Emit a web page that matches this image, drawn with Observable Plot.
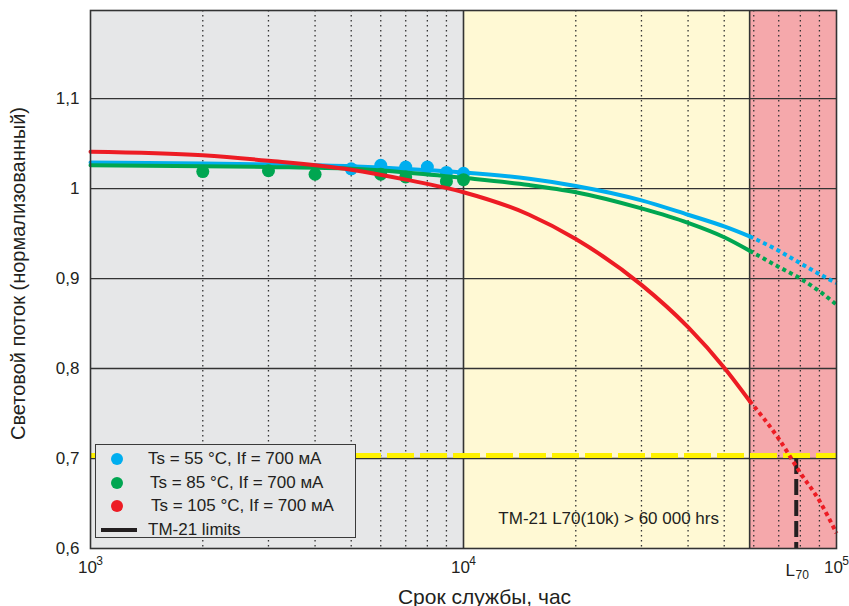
<!DOCTYPE html>
<html>
<head>
<meta charset="utf-8">
<script src="https://cdn.jsdelivr.net/npm/d3@7"></script>
<script src="https://cdn.jsdelivr.net/npm/@observablehq/plot@0.6"></script>
<style>
  html, body { margin: 0; padding: 0; background: #fff; }
  #wrap { position: relative; width: 849px; height: 606px; font-family: "Liberation Sans", Arial, sans-serif; }
  #legend { position: absolute; left: 95px; top: 444px; width: 261px; height: 94px; box-sizing: border-box;
            background: #e6e7e8; border: 1.5px solid #3a3a3a; }
  .row { position: absolute; left: 0; height: 24px; line-height: 24px; font-size: 17px; color: #231f20; white-space: nowrap; }
  .dot { position: absolute; width: 12px; height: 12px; border-radius: 50%; top: 6px; left: 15px; }
  .bar { position: absolute; height: 4px; top: 10px; left: 5px; width: 36px; background: #231f20; }
  .lbl { position: absolute; top: 0; }
</style>
</head>
<body>
<div id="wrap"><div id="legend"></div></div>
<script>
// ---- data ----
const seriesNames = ["Ts = 55 °C, If = 700 мА", "Ts = 85 °C, If = 700 мА", "Ts = 105 °C, If = 700 мА"];
const seriesColors = ["#00aeef", "#00a651", "#ed1c24"];
const limitLabel = "TM-21 limits";

// fitted curves (measured-to-reported range)
const curveX   = [1000, 2000, 3000, 5000, 7000, 10000, 15000, 20000, 30000, 40000, 50000, 58500];
const blueFit  = [1.029, 1.028, 1.027, 1.025, 1.022, 1.018, 1.011, 1.003, 0.987, 0.971, 0.958, 0.947];
const greenFit = [1.026, 1.025, 1.024, 1.022, 1.018, 1.012, 1.004, 0.996, 0.978, 0.962, 0.946, 0.931];
const redFit   = [1.041, 1.037, 1.031, 1.021, 1.010, 0.996, 0.971, 0.944, 0.893, 0.846, 0.801, 0.764];

// extrapolation beyond TM-21 limit
const extrapX   = [58500, 70000, 80000, 90000, 100000];
const blueExt   = [0.947, 0.931, 0.917, 0.905, 0.895];
const greenExt  = [0.931, 0.913, 0.900, 0.886, 0.871];
const redExt    = [0.764, 0.722, 0.684, 0.653, 0.617];

// measured points
const blueDotX  = [5000, 6000, 7000, 8000, 9000, 10000];
const blueDotY  = [1.022, 1.026, 1.024, 1.024, 1.018, 1.017];
const greenDotX = [2000, 3000, 4000, 6000, 7000, 9000, 10000];
const greenDotY = [1.019, 1.020, 1.016, 1.016, 1.013, 1.008, 1.010];

// regions
const regionFrom   = [1000, 10000, 58500];
const regionTo     = [10000, 58500, 100000];
const regionColors = ["#e6e7e8", "#fff9d4", "#f5a8ab"];

// axes
const yTicks = [0.6, 0.7, 0.8, 0.9, 1.0, 1.1];
const yTickLabels = ["0,6", "0,7", "0,8", "0,9", "1", "1,1"];
const xTicks = [1000, 10000, 100000];
const xExponents = ["3", "4", "5"];
const minorX = [2000, 3000, 4000, 5000, 6000, 7000, 8000, 9000, 20000, 30000, 40000, 50000, 60000, 70000, 80000, 90000];
const majorY = [0.7, 0.8, 0.9, 1.0, 1.1];
const solidX = [10000, 58500];
const l70Level = 0.7;
const l70Hours = 78000;
const annotationText = "TM-21 L70(10k) > 60 000 hrs";
const annotationX = 24500;
const annotationY = 0.633;
const xTitle = "Срок службы, час";
const yTitle = "Световой поток (нормализованный)";

// ---- build tables ----
const regions = regionFrom.map((f, i) => ({from: f, to: regionTo[i], color: regionColors[i]}));
const fits = [blueFit, greenFit, redFit].map(arr => curveX.map((x, i) => ({x, y: arr[i]})));
const exts = [blueExt, greenExt, redExt].map(arr => extrapX.map((x, i) => ({x, y: arr[i]})));
const blueDots = blueDotX.map((x, i) => ({x, y: blueDotY[i]}));
const greenDots = greenDotX.map((x, i) => ({x, y: greenDotY[i]}));

const ink = "#333333";
const dotted = {strokeWidth: 4, strokeDasharray: "4,3.5", strokeLinecap: "butt", curve: "monotone-x"};

const chart = Plot.plot({
  width: 849,
  height: 606,
  marginLeft: 90,
  marginRight: 13,
  marginTop: 10,
  marginBottom: 58,
  x: {type: "log", domain: [1000, 100000]},
  y: {domain: [0.6, 1.198]},
  style: {fontFamily: "'Liberation Sans', Arial, sans-serif", fontSize: "17px", background: "#fff", color: "#231f20"},
  marks: [
    ...regions.map(r => Plot.rect([r], {x1: "from", x2: "to", fill: r.color})),
    Plot.ruleX(minorX, {stroke: ink, strokeWidth: 1.3, strokeDasharray: "1.5,3.5"}),
    Plot.ruleY(majorY, {stroke: ink, strokeWidth: 1.4}),
    Plot.ruleX(solidX, {stroke: ink, strokeWidth: 1.6}),
    Plot.ruleY([l70Level], {stroke: "#fff200", strokeWidth: 5, strokeDasharray: "27,6", dy: -3}),
    Plot.ruleX([l70Hours], {y1: l70Level, y2: 0.6, stroke: "#231f20", strokeWidth: 4, strokeDasharray: "16,5"}),
    // blue
    Plot.line(fits[0], {x: "x", y: "y", stroke: seriesColors[0], strokeWidth: 4, curve: "monotone-x"}),
    Plot.line(exts[0], {x: "x", y: "y", stroke: seriesColors[0], ...dotted}),
    Plot.dot(blueDots, {x: "x", y: "y", r: 6.5, fill: seriesColors[0]}),
    // green
    Plot.line(fits[1], {x: "x", y: "y", stroke: seriesColors[1], strokeWidth: 4, curve: "monotone-x"}),
    Plot.line(exts[1], {x: "x", y: "y", stroke: seriesColors[1], ...dotted}),
    Plot.dot(greenDots, {x: "x", y: "y", r: 6.5, fill: seriesColors[1]}),
    // red
    Plot.line(fits[2], {x: "x", y: "y", stroke: seriesColors[2], strokeWidth: 4, curve: "monotone-x"}),
    Plot.line(exts[2], {x: "x", y: "y", stroke: seriesColors[2], ...dotted}),
    Plot.frame({stroke: ink, strokeWidth: 1.6}),
    // axes
    Plot.axisY({ticks: yTicks, tickFormat: d => yTickLabels[yTicks.indexOf(d)], tickSize: 0, tickPadding: 11, label: null, fontSize: 17}),
    Plot.axisX({ticks: xTicks, tickFormat: () => "10", tickSize: 0, tickPadding: 12, label: null, fontSize: 17, dx: -3}),
    Plot.text(xTicks, {x: d => d, frameAnchor: "bottom", text: (d, i) => xExponents[i], fontSize: 12, dx: 9, dy: 16}),
    Plot.text(["L"], {x: l70Hours, frameAnchor: "bottom", text: d => d, fontSize: 17, dx: -6, dy: 27}),
    Plot.text(["70"], {x: l70Hours, frameAnchor: "bottom", text: d => d, fontSize: 12, dx: 6, dy: 30}),
    Plot.text([annotationText], {x: annotationX, y: annotationY, text: d => d, fontSize: 17}),
    Plot.text([xTitle], {frameAnchor: "bottom", textAnchor: "middle", text: d => d, fontSize: 21, dx: 21, dy: 55}),
    Plot.text([yTitle], {frameAnchor: "left", textAnchor: "middle", lineAnchor: "middle", text: d => d, fontSize: 20, rotate: -90, dx: -72, dy: -6})
  ]
});

const wrap = document.getElementById("wrap");
wrap.insertBefore(chart, wrap.firstChild);

// legend
const legend = document.getElementById("legend");
const rowTops = [2, 26, 49, 73];
const textLefts = [52, 54, 55, 52];
seriesNames.forEach((name, i) => {
  const row = document.createElement("div");
  row.className = "row";
  row.style.top = rowTops[i] + "px";
  row.style.width = "100%";
  row.innerHTML = `<span class="dot" style="background:${seriesColors[i]}"></span><span class="lbl" style="left:${textLefts[i]}px">${name}</span>`;
  legend.appendChild(row);
});
const lrow = document.createElement("div");
lrow.className = "row";
lrow.style.top = rowTops[3] + "px";
lrow.style.width = "100%";
lrow.innerHTML = `<span class="bar"></span><span class="lbl" style="left:${textLefts[3]}px">${limitLabel}</span>`;
legend.appendChild(lrow);
</script>
</body>
</html>
